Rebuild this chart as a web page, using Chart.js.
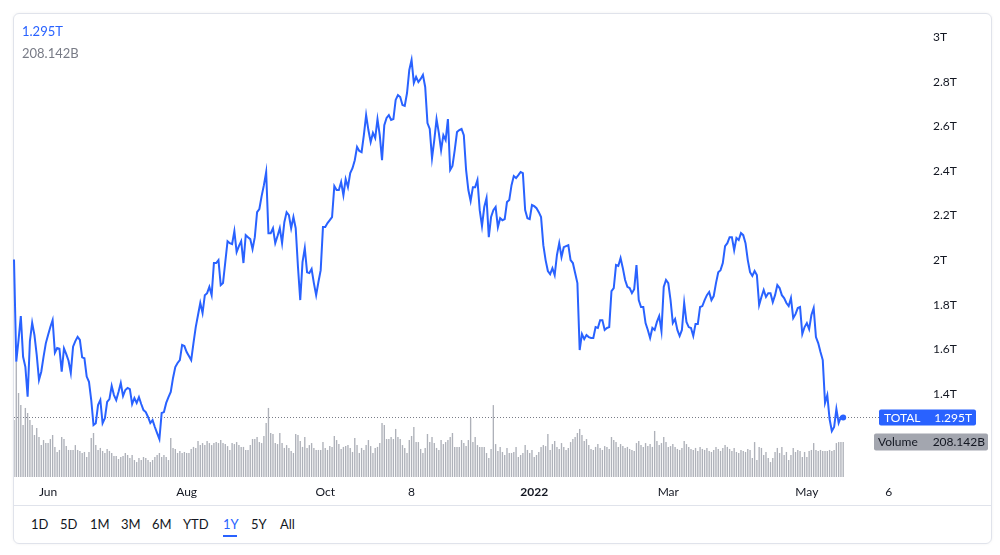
<!DOCTYPE html>
<html><head><meta charset="utf-8">
<script src="https://cdn.jsdelivr.net/npm/chart.js@4"></script>
<style>
html,body{margin:0;padding:0;background:#fff;}
body{width:1000px;height:555px;position:relative;overflow:hidden;font-family:Lato,'Noto Sans',sans-serif;}
#card{position:absolute;left:13px;top:13px;width:979px;height:531px;border:1px solid #e0e3eb;border-radius:6px;box-sizing:border-box;box-shadow:0 0 3px rgba(0,0,0,0.06);}
#sep{position:absolute;left:14px;top:505px;width:977px;height:1px;background:#e0e3eb;}
#wrap{position:absolute;left:0;top:0;width:1000px;height:505px;}
.leg{position:absolute;left:22px;font-size:13px;line-height:16px;}
.rb{position:absolute;top:516px;font-size:13px;color:#131722;line-height:16px;}
#ul{position:absolute;left:223px;top:535px;width:14px;height:2px;background:#2962ff;}
</style></head>
<body>
<div id="card"></div>
<div id="sep"></div>
<div id="wrap"><canvas id="c" width="1000" height="505"></canvas></div>
<div class="leg" style="top:23px;color:#2962ff">1.295T</div>
<div class="leg" style="top:45px;color:#787b86">208.142B</div>
<div class="rb" style="left:31px">1D</div>
<div class="rb" style="left:60px">5D</div>
<div class="rb" style="left:90px">1M</div>
<div class="rb" style="left:121px">3M</div>
<div class="rb" style="left:152px">6M</div>
<div class="rb" style="left:183px">YTD</div>
<div class="rb" style="left:223px;color:#2962ff">1Y</div>
<div class="rb" style="left:251px">5Y</div>
<div class="rb" style="left:280px">All</div>
<div id="ul"></div>
<script>
// ---- data ----
const startDate = '2021-05-17';
const axisDays = 391;
const totalValues = [
2.003,1.545,1.642,1.749,1.567,1.522,1.388,1.637,1.719,1.664,
1.575,1.463,1.500,1.566,1.627,1.664,1.700,1.731,1.585,1.606,
1.603,1.500,1.604,1.579,1.549,1.495,1.612,1.637,1.656,1.642,
1.564,1.560,1.478,1.455,1.373,1.261,1.269,1.351,1.373,1.269,
1.291,1.365,1.377,1.436,1.395,1.373,1.409,1.449,1.391,1.418,
1.427,1.422,1.355,1.382,1.360,1.386,1.355,1.328,1.319,1.297,
1.270,1.283,1.252,1.225,1.198,1.315,1.319,1.360,1.386,1.409,
1.472,1.521,1.539,1.552,1.620,1.615,1.588,1.570,1.552,1.628,
1.700,1.754,1.808,1.763,1.843,1.852,1.880,1.843,1.987,1.987,
2.000,1.888,1.897,1.991,2.085,2.076,2.072,2.130,2.036,2.063,
2.085,1.987,2.112,2.103,2.094,2.049,2.103,2.215,2.229,2.287,
2.336,2.395,2.121,2.121,2.143,2.076,2.108,2.143,2.076,2.170,
2.215,2.202,2.143,2.193,2.143,1.969,1.821,1.991,2.054,1.946,
1.942,1.960,1.897,1.843,1.902,1.955,2.148,2.148,2.166,2.179,
2.193,2.332,2.314,2.314,2.350,2.291,2.363,2.327,2.390,2.412,
2.448,2.507,2.489,2.484,2.560,2.650,2.583,2.529,2.570,2.547,
2.632,2.560,2.448,2.605,2.637,2.650,2.628,2.632,2.718,2.740,
2.731,2.695,2.691,2.749,2.852,2.897,2.794,2.821,2.798,2.812,
2.830,2.776,2.614,2.588,2.457,2.538,2.632,2.570,2.493,2.560,
2.538,2.632,2.404,2.422,2.493,2.574,2.583,2.588,2.560,2.404,
2.314,2.265,2.327,2.327,2.359,2.224,2.153,2.238,2.278,2.103,
2.193,2.224,2.238,2.148,2.188,2.179,2.184,2.260,2.269,2.336,
2.377,2.368,2.381,2.395,2.390,2.224,2.188,2.184,2.247,2.242,
2.233,2.215,2.193,2.067,2.000,1.951,1.937,1.964,1.933,2.023,
2.076,2.014,2.058,2.063,2.067,2.000,1.987,1.942,1.897,1.597,
1.669,1.646,1.664,1.655,1.651,1.651,1.700,1.696,1.731,1.731,
1.687,1.696,1.700,1.861,1.875,1.978,1.974,2.009,1.964,1.911,
1.880,1.875,1.852,1.870,1.978,1.821,1.790,1.790,1.718,1.687,
1.651,1.696,1.687,1.723,1.749,1.682,1.880,1.911,1.897,1.821,
1.718,1.736,1.687,1.660,1.687,1.808,1.723,1.700,1.696,1.660,
1.714,1.714,1.790,1.794,1.821,1.843,1.857,1.821,1.839,1.897,
1.946,1.955,1.987,2.063,2.076,2.103,2.103,2.045,2.099,2.090,
2.121,2.112,2.076,2.000,1.946,1.929,1.951,1.933,1.799,1.835,
1.866,1.835,1.852,1.852,1.812,1.843,1.888,1.875,1.843,1.830,
1.808,1.794,1.830,1.740,1.758,1.785,1.790,1.669,1.700,1.718,
1.691,1.754,1.785,1.655,1.628,1.588,1.552,1.360,1.395,1.288,
1.234,1.252,1.333,1.270,1.297,1.295];
const volumeValues = [
339,684,500,428,309,411,381,339,309,250,
292,238,190,220,202,202,226,250,179,149,
161,238,226,184,161,161,161,190,161,155,
143,149,119,149,232,262,190,161,173,155,
143,167,155,143,125,125,107,119,125,143,
131,113,131,101,89,113,101,119,113,101,
89,101,119,131,143,119,131,119,101,232,
173,167,143,155,143,149,143,143,167,179,
173,214,190,202,190,214,202,190,202,208,
202,220,202,196,184,161,202,196,208,190,
179,179,161,161,190,226,226,238,208,202,
244,321,411,262,256,202,196,262,202,173,
190,173,155,143,256,250,214,179,238,173,
190,202,173,161,161,161,208,173,161,184,
179,244,220,196,167,179,184,190,173,149,
232,190,143,173,161,190,220,184,143,173,
179,202,321,309,226,226,238,226,286,238,
226,190,173,143,220,244,298,208,208,167,
143,173,256,208,238,202,173,161,220,196,
208,220,238,262,179,179,179,220,202,184,
220,351,208,238,190,179,179,179,143,113,
167,428,196,155,179,149,131,173,143,143,
149,179,119,131,143,190,161,143,161,119,
131,149,179,190,184,256,161,196,214,179,
167,202,179,161,173,208,226,238,262,286,
250,214,226,190,167,161,179,196,173,161,
184,179,167,238,220,208,179,196,184,173,
179,167,161,155,202,214,190,179,202,184,
196,179,274,214,190,202,238,208,179,184,
196,179,167,161,173,214,196,179,167,161,
173,155,179,167,161,173,155,149,161,179,
167,155,173,190,179,167,155,173,149,143,
161,155,149,167,161,113,208,101,179,173,
131,149,113,89,113,149,173,143,179,131,
149,101,131,173,149,161,155,119,149,119,
155,161,202,161,155,161,155,155,155,161,
155,161,202,208,208,208];
const tickDates = ['2021-06-01','2021-08-01','2021-10-01','2021-11-08','2022-01-01','2022-03-01','2022-05-01','2022-06-06'];
const tickTexts = ['Jun','Aug','Oct','8','2022','Mar','May','6'];
const yTicks = [1.4,1.6,1.8,2.0,2.2,2.4,2.6,2.8,3.0];
const seriesName = 'TOTAL';
const lastTotalText = '1.295T';
const lastVolumeText = '208.142B';

// ---- categories ----
const labels = [];
const t0 = Date.parse(startDate + 'T00:00:00Z');
for (let i = 0; i < axisDays; i++) labels.push(new Date(t0 + i * 864e5).toISOString().slice(0, 10));
const tickIdx = tickDates.map(d => labels.indexOf(d));

const FONT = 'Lato, "Noto Sans", sans-serif';
const lastIdx = totalValues.length - 1;

const priceLabels = {
  id: 'priceLabels',
  beforeDatasetsDraw(chart) {
    const {ctx, chartArea, scales} = chart;
    const y = Math.round(scales.y.getPixelForValue(totalValues[lastIdx])) + 0.5;
    ctx.save();
    ctx.strokeStyle = '#787b86';
    ctx.lineWidth = 1;
    ctx.setLineDash([1, 2]);
    ctx.beginPath();
    ctx.moveTo(chartArea.left, y);
    ctx.lineTo(879, y);
    ctx.stroke();
    ctx.restore();
  },
  afterDraw(chart) {
    const {ctx, scales} = chart;
    const y = scales.y.getPixelForValue(totalValues[lastIdx]);
    const yv = scales.y2.getPixelForValue(volumeValues[volumeValues.length - 1]);
    ctx.save();
    function rr(x, yy, w, h, r, col) {
      ctx.fillStyle = col;
      ctx.beginPath();
      ctx.moveTo(x + r, yy); ctx.lineTo(x + w - r, yy); ctx.quadraticCurveTo(x + w, yy, x + w, yy + r);
      ctx.lineTo(x + w, yy + h - r); ctx.quadraticCurveTo(x + w, yy + h, x + w - r, yy + h);
      ctx.lineTo(x + r, yy + h); ctx.quadraticCurveTo(x, yy + h, x, yy + h - r);
      ctx.lineTo(x, yy + r); ctx.quadraticCurveTo(x, yy, x + r, yy);
      ctx.fill();
    }
    rr(879, y - 8, 97, 16, 2, '#2962ff');
    ctx.font = '12px ' + FONT;
    ctx.textBaseline = 'middle';
    ctx.fillStyle = '#ffffff';
    ctx.textAlign = 'left';
    ctx.fillText(seriesName, 884, y + 0.5);
    ctx.textAlign = 'right';
    ctx.fillText(lastTotalText, 972, y + 0.5);
    rr(874, yv - 8.5, 114, 17, 2, '#a3a6af');
    ctx.fillStyle = '#131722';
    ctx.textAlign = 'left';
    ctx.fillText('Volume', 878, yv + 0.5);
    ctx.textAlign = 'right';
    ctx.fillText(lastVolumeText, 985, yv + 0.5);
    ctx.restore();
  }
};

new Chart(document.getElementById('c'), {
  data: {
    labels: labels,
    datasets: [
      {
        type: 'line', label: seriesName, data: totalValues, yAxisID: 'y', order: 0,
        borderColor: '#2962ff', borderWidth: 2, tension: 0, fill: false,
        pointRadius: c => c.dataIndex === lastIdx ? 3 : 0,
        pointBackgroundColor: '#2962ff', pointBorderWidth: 0
      },
      {
        type: 'bar', label: 'Volume', data: volumeValues, yAxisID: 'y2', order: 1,
        backgroundColor: '#aeb1b9', barPercentage: 0.6, categoryPercentage: 1
      }
    ]
  },
  options: {
    responsive: false,
    animation: false,
    layout: {padding: {left: 14, top: 20, right: 0, bottom: 0}},
    plugins: {legend: {display: false}, tooltip: {enabled: false}},
    scales: {
      x: {
        type: 'category', offset: false,
        grid: {display: false, drawTicks: false}, border: {display: false},
        afterBuildTicks: s => { s.ticks = tickIdx.map(v => ({value: v})); },
        afterFit: s => { s.height = 28; s.paddingLeft = 0; s.paddingRight = 0; },
        ticks: {
          autoSkip: false, maxRotation: 0, padding: 8, color: '#131722',
          font: c => ({family: FONT, size: 12, weight: tickTexts[c.index] === '2022' ? 'bold' : 'normal'}),
          callback: v => tickTexts[tickIdx.indexOf(v)]
        }
      },
      y: {
        type: 'linear', position: 'right', min: 1.028, max: 3.0762,
        grid: {display: false, drawTicks: false}, border: {display: false},
        afterBuildTicks: s => { s.ticks = yTicks.map(v => ({value: v})); },
        afterFit: s => { s.width = 100; s.paddingTop = 0; s.paddingBottom = 0; },
        ticks: {
          crossAlign: 'near', padding: 33, color: '#131722',
          font: {family: FONT, size: 12},
          callback: v => (+v.toFixed(1)) + 'T'
        }
      },
      y2: {type: 'linear', display: false, min: 0, max: 2720}
    }
  },
  plugins: [priceLabels]
});
</script>
</body></html>
